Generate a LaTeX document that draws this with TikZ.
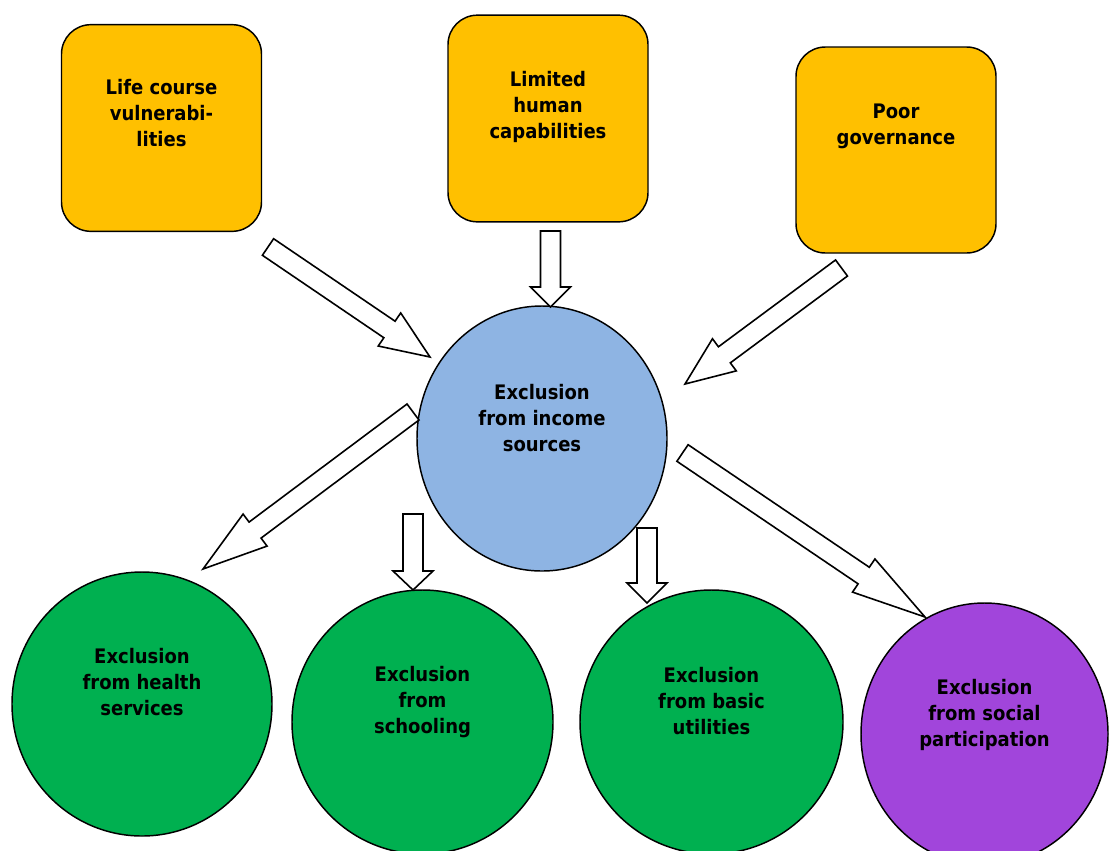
\documentclass[tikz,border=0pt]{standalone}
\usepackage{fontspec}
\setmainfont{DejaVu Sans Condensed}
\usetikzlibrary{shapes.geometric,calc}
\definecolor{gold}{HTML}{FFC000}
\definecolor{skyb}{HTML}{8EB4E3}
\definecolor{grn}{HTML}{00B050}
\definecolor{purp}{HTML}{A145DB}
\newcommand{\sw}{7.5pt}
\newcommand{\hw}{15pt}
% #1 tail, #2 tip, #3 head length (pt, number)
\newcommand{\blockarrow}[3]{%
  \draw[barrow] let \p1=(#1), \p2=(#2),
     \n1={atan2(\y2-\y1,\x2-\x1)},
     \n2={veclen(\x2-\x1,\y2-\y1)-#3} in
   ($(\p1)+(\n1+90:\sw)$)
   -- ($(\p1)+(\n1:\n2)+(\n1+90:\sw)$)
   -- ($(\p1)+(\n1:\n2)+(\n1+90:\hw)$)
   -- (\p2)
   -- ($(\p1)+(\n1:\n2)+(\n1-90:\hw)$)
   -- ($(\p1)+(\n1:\n2)+(\n1-90:\sw)$)
   -- ($(\p1)+(\n1-90:\sw)$) -- cycle;}
\begin{document}
\begin{tikzpicture}[x=0.75pt,y=-0.75pt,
  box/.style={draw=black, line width=1.1pt, fill=gold, rounded corners=22pt,
    minimum width=150pt, minimum height=155pt, inner sep=0pt},
  oval/.style={draw=black, line width=1.1pt, ellipse, inner sep=0pt},
  txt/.style={font=\bfseries\fontsize{15}{19.5}\selectfont, align=center, inner sep=0pt, text=black},
  barrow/.style={draw=black, line width=1.2pt, fill=white, line join=miter}]
\useasboundingbox (0,0) rectangle (1109,850);
% top boxes
\node[box] (lc) at (161.5,128) {};
\node[box] (lh) at (548,118.5) {};
\node[box, minimum height=154.5pt] (pg) at (896,150) {};
\node[txt] (lct) at (161.5,113) {Life course\\vulnerabi-\\lities};
\node[txt] (lht) at (548,106.5) {Limited\\human\\capabilities};
\node[txt] (pgt) at (896,126) {Poor\\governance};
% centre
\node[oval, fill=skyb, minimum width=187.5pt, minimum height=198.75pt] (inc) at (542,438.5) {};
\node[txt] (inct) at (542,418.5) {Exclusion\\from income\\sources};
% bottom
\node[oval, fill=grn, minimum width=195pt, minimum height=198pt] (hs) at (142,704) {};
\node[oval, fill=grn, minimum width=195.75pt, minimum height=198pt] (sc) at (422.5,722) {};
\node[oval, fill=grn, minimum width=197.25pt, minimum height=198pt] (bu) at (711.5,722) {};
\node[oval, fill=purp, minimum width=185.25pt, minimum height=196.5pt] (sp) at (984.5,734) {};
\node[txt] (hst) at (142,682.5) {Exclusion\\from health\\services};
\node[txt] (sct) at (422.5,702.5) {Exclusion\\from\\schooling};
\node[txt] (but) at (711.5,701) {Exclusion\\from basic\\utilities};
\node[txt] (spt) at (984.5,714.5) {Exclusion\\from social\\participation};
% arrow ends
\coordinate (a1s) at (268,247);   \coordinate (a1e) at (430,357);
\coordinate (a2s) at (550.5,231); \coordinate (a2e) at (550.5,307);
\coordinate (a3s) at (841.5,268); \coordinate (a3e) at (685,384);
\coordinate (a4s) at (413,412);   \coordinate (a4e) at (203,569);
\coordinate (a5s) at (682.5,453); \coordinate (a5e) at (925,617);
\coordinate (a6s) at (413,514);   \coordinate (a6e) at (413,590);
\coordinate (a7s) at (647,528);   \coordinate (a7e) at (647,603);
\blockarrow{a1s}{a1e}{36.75}
\blockarrow{a2s}{a2e}{15}
\blockarrow{a3s}{a3e}{36.75}
\blockarrow{a4s}{a4e}{48.75}
\blockarrow{a5s}{a5e}{55.5}
\blockarrow{a6s}{a6e}{14.25}
\blockarrow{a7s}{a7e}{15}
\end{tikzpicture}
\end{document}
